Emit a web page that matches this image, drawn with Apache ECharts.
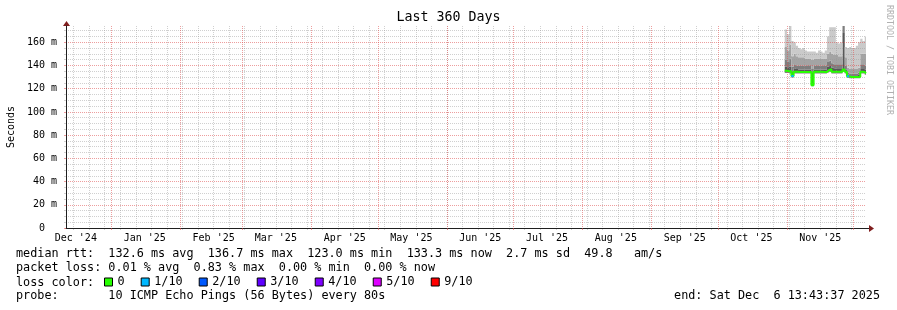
<!DOCTYPE html>
<html><head><meta charset="utf-8">
<script src="https://cdn.jsdelivr.net/npm/echarts@6/dist/echarts.min.js"></script>
<style>html,body{margin:0;padding:0;background:#fff}#c{width:897px;height:310px}</style>
</head><body><div id="c"></div>
<script>
// ---------------- data ----------------
const startTime = '2024-12-11T13:43:37Z';
const endTime   = '2025-12-06T13:43:37Z';
const days = ['2025-10-31','2025-11-01','2025-11-02','2025-11-03','2025-11-04','2025-11-05','2025-11-06','2025-11-07',
  '2025-11-08','2025-11-09','2025-11-10','2025-11-11','2025-11-12','2025-11-13','2025-11-14','2025-11-15','2025-11-16',
  '2025-11-17','2025-11-18','2025-11-19','2025-11-20','2025-11-21','2025-11-22','2025-11-23','2025-11-24','2025-11-25',
  '2025-11-26','2025-11-27','2025-11-28','2025-11-29','2025-11-30','2025-12-01','2025-12-02','2025-12-03','2025-12-04',
  '2025-12-05','2025-12-06'];
// values in ms
const median  = [135.5,135.0,135.0,131.0,134.5,134.5,134.3,134.3,134.3,134.3,134.3,134.3,123.0,134.5,134.5,134.5,134.5,134.3,134.3,136.0,136.7,134.5,134.5,134.5,134.5,134.5,136.5,134.5,130.8,130.0,130.0,130.0,130.0,130.2,134.5,134.3,133.3];
const pingLow = [133.5,133.5,133.0,129.5,133.0,133.0,133.0,133.0,133.0,133.0,133.0,133.0,122.0,133.0,133.0,133.0,133.0,133.0,133.0,134.0,134.5,133.0,133.0,133.0,133.0,133.0,134.5,133.0,129.5,129.0,129.0,129.0,129.0,129.0,133.0,133.0,132.0];
const ping7   = [139.0,138.5,139.0,135.0,137.5,137.0,136.5,136.5,136.5,136.5,136.5,136.5,134.0,136.5,136.5,136.5,136.5,136.5,136.5,139.0,139.5,138.0,137.5,137.0,137.0,137.0,168.0,136.5,132.0,131.5,131.5,131.5,131.5,132.0,137.0,137.0,136.5];
const ping8   = [145.0,143.0,146.0,139.0,141.0,140.0,140.0,140.0,140.0,140.0,139.5,139.5,137.0,140.0,139.5,140.0,140.0,139.5,140.0,143.0,144.0,142.0,141.0,141.0,141.0,141.0,174.0,140.0,134.0,133.0,133.0,133.0,133.0,134.0,141.0,141.0,140.0];
const ping9   = [156.0,153.0,158.0,148.0,150.0,148.0,147.0,147.0,147.0,146.0,146.0,146.0,145.0,146.0,146.0,146.0,146.0,146.0,146.0,150.0,152.0,150.0,149.0,149.0,148.0,148.0,174.0,147.0,138.0,137.0,137.0,137.0,137.0,138.0,150.0,150.0,150.0];
const pingMax = [171.0,167.0,174.0,161.0,160.0,157.0,155.0,154.0,155.0,153.0,152.0,152.0,152.0,152.0,151.0,153.0,152.0,151.0,153.0,165.0,173.0,173.0,173.0,160.0,159.0,160.0,174.0,156.0,155.0,156.0,155.0,155.0,157.0,160.0,163.0,161.0,165.0];
const lossCount = [0,0,0,1,0,0,0,0,0,0,0,0,0,0,0,0,0,0,0,0,0,0,0,0,0,0,0,0,1,0,0,0,0,0,0,0,0];

const lossLevels = ['0','1/10','2/10','3/10','4/10','5/10','9/10'];
const lossColors = ['#26ff00','#00b8ff','#0059ff','#5e00ff','#7e00ff','#dd00ff','#ff0000'];

const monthTicks = ['2025-01-01','2025-02-01','2025-03-01','2025-04-01','2025-05-01','2025-06-01','2025-07-01',
  '2025-08-01','2025-09-01','2025-10-01','2025-11-01','2025-12-01'];
const monthLabelDates = ['2024-12-16','2025-01-16','2025-02-16','2025-03-16','2025-04-16','2025-05-16','2025-06-16',
  '2025-07-16','2025-08-16','2025-09-16','2025-10-16','2025-11-16'];
const monthLabels = ["Dec '24","Jan '25","Feb '25","Mar '25","Apr '25","May '25","Jun '25","Jul '25","Aug '25","Sep '25","Oct '25","Nov '25"];
const firstSunday = '2024-12-15';
const yMajorTicks = [0,20,40,60,80,100,120,140,160];
const yMinorTicks = [5,10,15,25,30,35,45,50,55,65,70,75,85,90,95,105,110,115,125,130,135,145,150,155,165,170];
const yMax = 174;

const textLines = {
  rtt:   'median rtt:  132.6 ms avg  136.7 ms max  123.0 ms min  133.3 ms now  2.7 ms sd  49.8   am/s',
  loss:  'packet loss: 0.01 % avg  0.83 % max  0.00 % min  0.00 % now',
  color: 'loss color:',
  probe: 'probe:       10 ICMP Echo Pings (56 Bytes) every 80s',
  end:   'end: Sat Dec  6 13:43:37 2025'
};

// ---------------- build ----------------
const MONO = '"DejaVu Sans Mono", monospace';
const ts = s => Date.parse(s.length === 10 ? s + 'T00:00:00Z' : s);
const t0 = ts(startTime), t1 = ts(endTime);
const edges = days.map(ts).concat([t1]);
const stepData = vals => edges.map((t, i) => [t, vals[Math.min(i, vals.length - 1)]]);

const weekTicks = [];
for (let t = ts(firstSunday); t < t1; t += 7 * 86400000) weekTicks.push(t);
const labelMap = {};
monthLabelDates.forEach((d, i) => { labelMap[ts(d)] = monthLabels[i]; });

const MAJOR = 'rgba(222,79,79,0.55)';
const MINOR = 'rgba(150,150,150,0.45)';

const series = [];
// smoke bands between sorted pings (SmokePing shading)
const bandDefs = [
  {lower: pingLow, upper: median,  color:'#7e7e7e'},
  {lower: median,  upper: ping7,   color:'#585858'},
  {lower: ping7,   upper: ping8,   color:'#7e7e7e'},
  {lower: ping8,   upper: ping9,   color:'#a4a4a4'},
  {lower: ping9,   upper: pingMax, color:'#cacaca'}
];
series.push({
  type:'custom', name:'smoke', coordinateSystem:'cartesian2d', silent:true, z:2, clip:true,
  encode:{x:0, y:1},
  data: bandDefs.map((b, k) => [t0, 0, k]),
  renderItem: (params, api) => {
    const b = bandDefs[api.value(2)];
    const top = [], bot = [];
    for (let i = 0; i < days.length; i++) {
      top.push(api.coord([edges[i], b.upper[i]]), api.coord([edges[i + 1], b.upper[i]]));
      bot.push(api.coord([edges[i], b.lower[i]]), api.coord([edges[i + 1], b.lower[i]]));
    }
    return {type:'polygon', shape:{points: top.concat(bot.reverse())}, style:{fill:b.color}};
  }
});

lossLevels.forEach((lv, k) => {
  let data = [];
  if (k === 0) data = stepData(median);
  else {
    lossCount.forEach((c, i) => {
      if (c === k) { data.push([edges[i], median[i]], [edges[i + 1], median[i]], [edges[i + 1], null]); }
    });
  }
  series.push({type:'line', name:lv, color:lossColors[k], symbol:'none', silent:true,
    step: k === 0 ? 'end' : false, data, lineStyle:{width:2, color:lossColors[k]}, z: 6 + k});
});

const chart = echarts.init(document.getElementById('c'), null, {renderer:'canvas'});
const option = {
  animation:false,
  backgroundColor:'#ffffff',
  title:{text:'Last 360 Days', left:'center', top:11, padding:0,
    textStyle:{fontFamily:MONO, fontSize:13.3, fontWeight:'normal', color:'#000'}},
  grid:{left:66, right:31, top:26, bottom:82, containLabel:false, outerBoundsMode:'none'},
  legend:{data:lossLevels, left:104, top:276, padding:0, icon:'rect', itemWidth:8, itemHeight:8, itemGap:16.1,
    selectedMode:false, itemStyle:{borderColor:'#000', borderWidth:1},
    textStyle:{fontFamily:MONO, fontSize:11.8, color:'#000'}},
  xAxis:[
    {type:'value', min:t0, max:t1, z:4, position:'bottom',
      axisLine:{show:true, lineStyle:{color:'#1f1f1f', width:1}},
      axisTick:{show:true, customValues: monthTicks.map(ts), length:2, inside:false, lineStyle:{color:MAJOR}},
      splitLine:{show:true, showMinLine:true, showMaxLine:true, lineStyle:{color:MAJOR, type:[1,1], width:1}},
      axisLabel:{show:true, customValues: monthLabelDates.map(ts), formatter: v => labelMap[v] || '',
        fontFamily:MONO, fontSize:10, color:'#000', margin:5}},
    {type:'value', min:t0, max:t1, z:3, position:'bottom',
      axisLine:{show:false}, axisLabel:{show:false},
      axisTick:{show:true, customValues: weekTicks, length:2, inside:false, lineStyle:{color:MINOR}},
      splitLine:{show:true, showMinLine:true, showMaxLine:true, lineStyle:{color:MINOR, type:[1,1], width:1}}}
  ],
  yAxis:[
    {type:'value', min:0, max:yMax, z:4, position:'left',
      name:'Seconds', nameLocation:'middle', nameGap:50, nameRotate:90,
      nameTextStyle:{fontFamily:MONO, fontSize:10, color:'#000'},
      axisLine:{show:true, lineStyle:{color:'#1f1f1f', width:1}},
      axisTick:{show:true, customValues: yMajorTicks, length:2, lineStyle:{color:MAJOR}},
      splitLine:{show:true, showMinLine:false, showMaxLine:true, lineStyle:{color:MAJOR, type:[1,1], width:1}},
      axisLabel:{show:true, customValues: yMajorTicks, formatter: v => v === 0 ? '0  ' : v + ' m',
        fontFamily:MONO, fontSize:10, color:'#000', margin:9}},
    {type:'value', min:0, max:yMax, z:3, position:'left',
      axisLine:{show:false}, axisLabel:{show:false},
      axisTick:{show:true, customValues: yMinorTicks, length:2, lineStyle:{color:MINOR}},
      splitLine:{show:true, showMinLine:true, showMaxLine:true, lineStyle:{color:MINOR, type:[1,1], width:1}}}
  ],
  series
};
chart.setOption(option);

// decorations: arrows + text lines
const pO = chart.convertToPixel({gridIndex:0}, [t0, 0]);
const pT = chart.convertToPixel({gridIndex:0}, [t0, yMax]);
const pE = chart.convertToPixel({gridIndex:0}, [t1, 0]);
const ox = Math.round(pO[0]) + 0.5, oy = Math.round(pO[1]) + 0.5;
const ty = Math.round(pT[1]), ex = Math.round(pE[0]);
const ARROW = '#801f1f';
const txt = (x, y, text, opts) => Object.assign({type:'text', x, y, silent:true,
  style:Object.assign({text, font:'11.8px ' + MONO, fill:'#000', align:'left', verticalAlign:'middle'}, opts || {})});
chart.setOption({graphic:[
  {type:'line', silent:true, shape:{x1:ex, y1:oy, x2:ex + 3, y2:oy}, style:{stroke:'#1f1f1f', lineWidth:1}},
  {type:'polygon', silent:true, shape:{points:[[ex + 3, oy - 3.5], [ex + 8, oy], [ex + 3, oy + 3.5]]}, style:{fill:ARROW}},
  {type:'polygon', silent:true, shape:{points:[[ox - 3.5, ty], [ox, ty - 5], [ox + 3.5, ty]]}, style:{fill:ARROW}},
  txt(16, 254, textLines.rtt),
  txt(16, 268, textLines.loss),
  txt(16, 282.5, textLines.color),
  txt(16, 296, textLines.probe),
  txt(880, 296, textLines.end, {align:'right'}),
  {type:'text', x:889, y:5, rotation:-Math.PI / 2, silent:true,
    style:{text:'RRDTOOL / TOBI OETIKER', font:'8.3px ' + MONO, fill:'#b0b0b0', align:'left', verticalAlign:'middle'}}
]});
</script>
</body></html>
